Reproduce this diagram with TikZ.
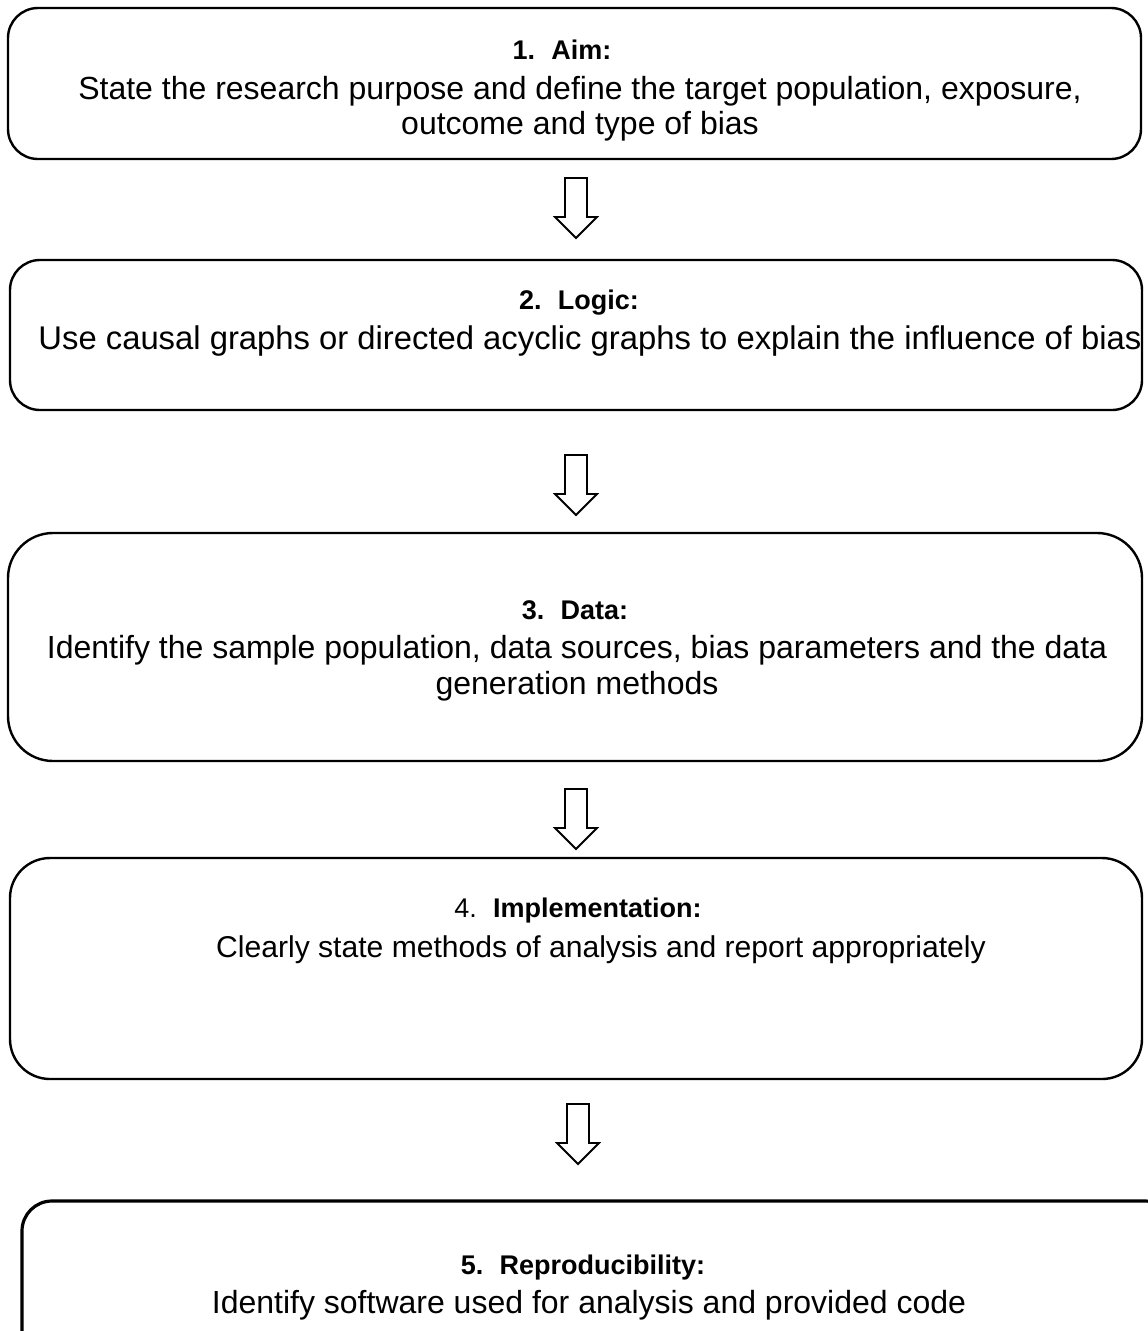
\documentclass[tikz,border=0pt]{standalone}
\usepackage{fontspec}
\setmainfont{Liberation Sans}
\begin{document}
\begin{tikzpicture}[x=1pt,y=-1pt,
  box/.style={draw=black,line width=2.4pt,rounded corners=#1},
  box/.default=30pt,
  ttl/.style={font=\fontsize{27}{33}\selectfont,inner sep=0pt,anchor=base},
  txt/.style={font=\fontsize{32}{38}\selectfont,inner sep=0pt,anchor=base},
  blockarrow/.style={draw=black,line width=1.8pt,fill=white,line join=miter}]
\useasboundingbox (0,0) rectangle (1148,1331);
% boxes
\draw[box=30pt] (8,8) rectangle (1141,159);
\draw[box=30pt] (10,260) rectangle (1142,410);
\draw[box=45pt] (8,533) rectangle (1142,761);
\draw[box=40pt] (10,858) rectangle (1142,1079);
\draw[box=30pt,line width=3.2pt] (22,1201) rectangle (1175,1360);
% texts
\node[ttl] (t1) at (562,59) {\textbf{1.\hspace{0.6em}Aim:}};
\node[txt] (t1a) at (580,99) {State the research purpose and define the target population, exposure,};
\node[txt] (t1b) at (580,134) {outcome and type of bias};
\node[ttl] (t2) at (579,309) {\textbf{2.\hspace{0.6em}Logic:}};
\node[txt,font=\fontsize{32.8}{38}\selectfont] (t2a) at (590,349) {Use causal graphs or directed acyclic graphs to explain the influence of bias};
\node[ttl] (t3) at (575,619) {\textbf{3.\hspace{0.6em}Data:}};
\node[txt] (t3a) at (577,658) {Identify the sample population, data sources, bias parameters and the data};
\node[txt] (t3b) at (577,694) {generation methods};
\node[ttl] (t4) at (578,917) {4.\hspace{0.6em}\textbf{Implementation:}};
\node[txt,font=\fontsize{30.1}{36}\selectfont] (t4a) at (601,957) {Clearly state methods of analysis and report appropriately};
\node[ttl] (t5) at (583,1274) {\textbf{5.\hspace{0.6em}Reproducibility:}};
\node[txt] (t5a) at (589,1313) {Identify software used for analysis and provided code};
% block arrows
\foreach \n/\cx/\ty in {a1/576/178, a2/576/455, a3/576/789, a4/578/1104}{
  \coordinate (\n) at (\cx,\ty);
  \draw[blockarrow] (\n) ++(-11,0) -- ++(0,39) -- ++(-10,0) -- ++(21,21) -- ++(21,-21) -- ++(-10,0) -- ++(0,-39) -- cycle;
}
\end{tikzpicture}
\end{document}
